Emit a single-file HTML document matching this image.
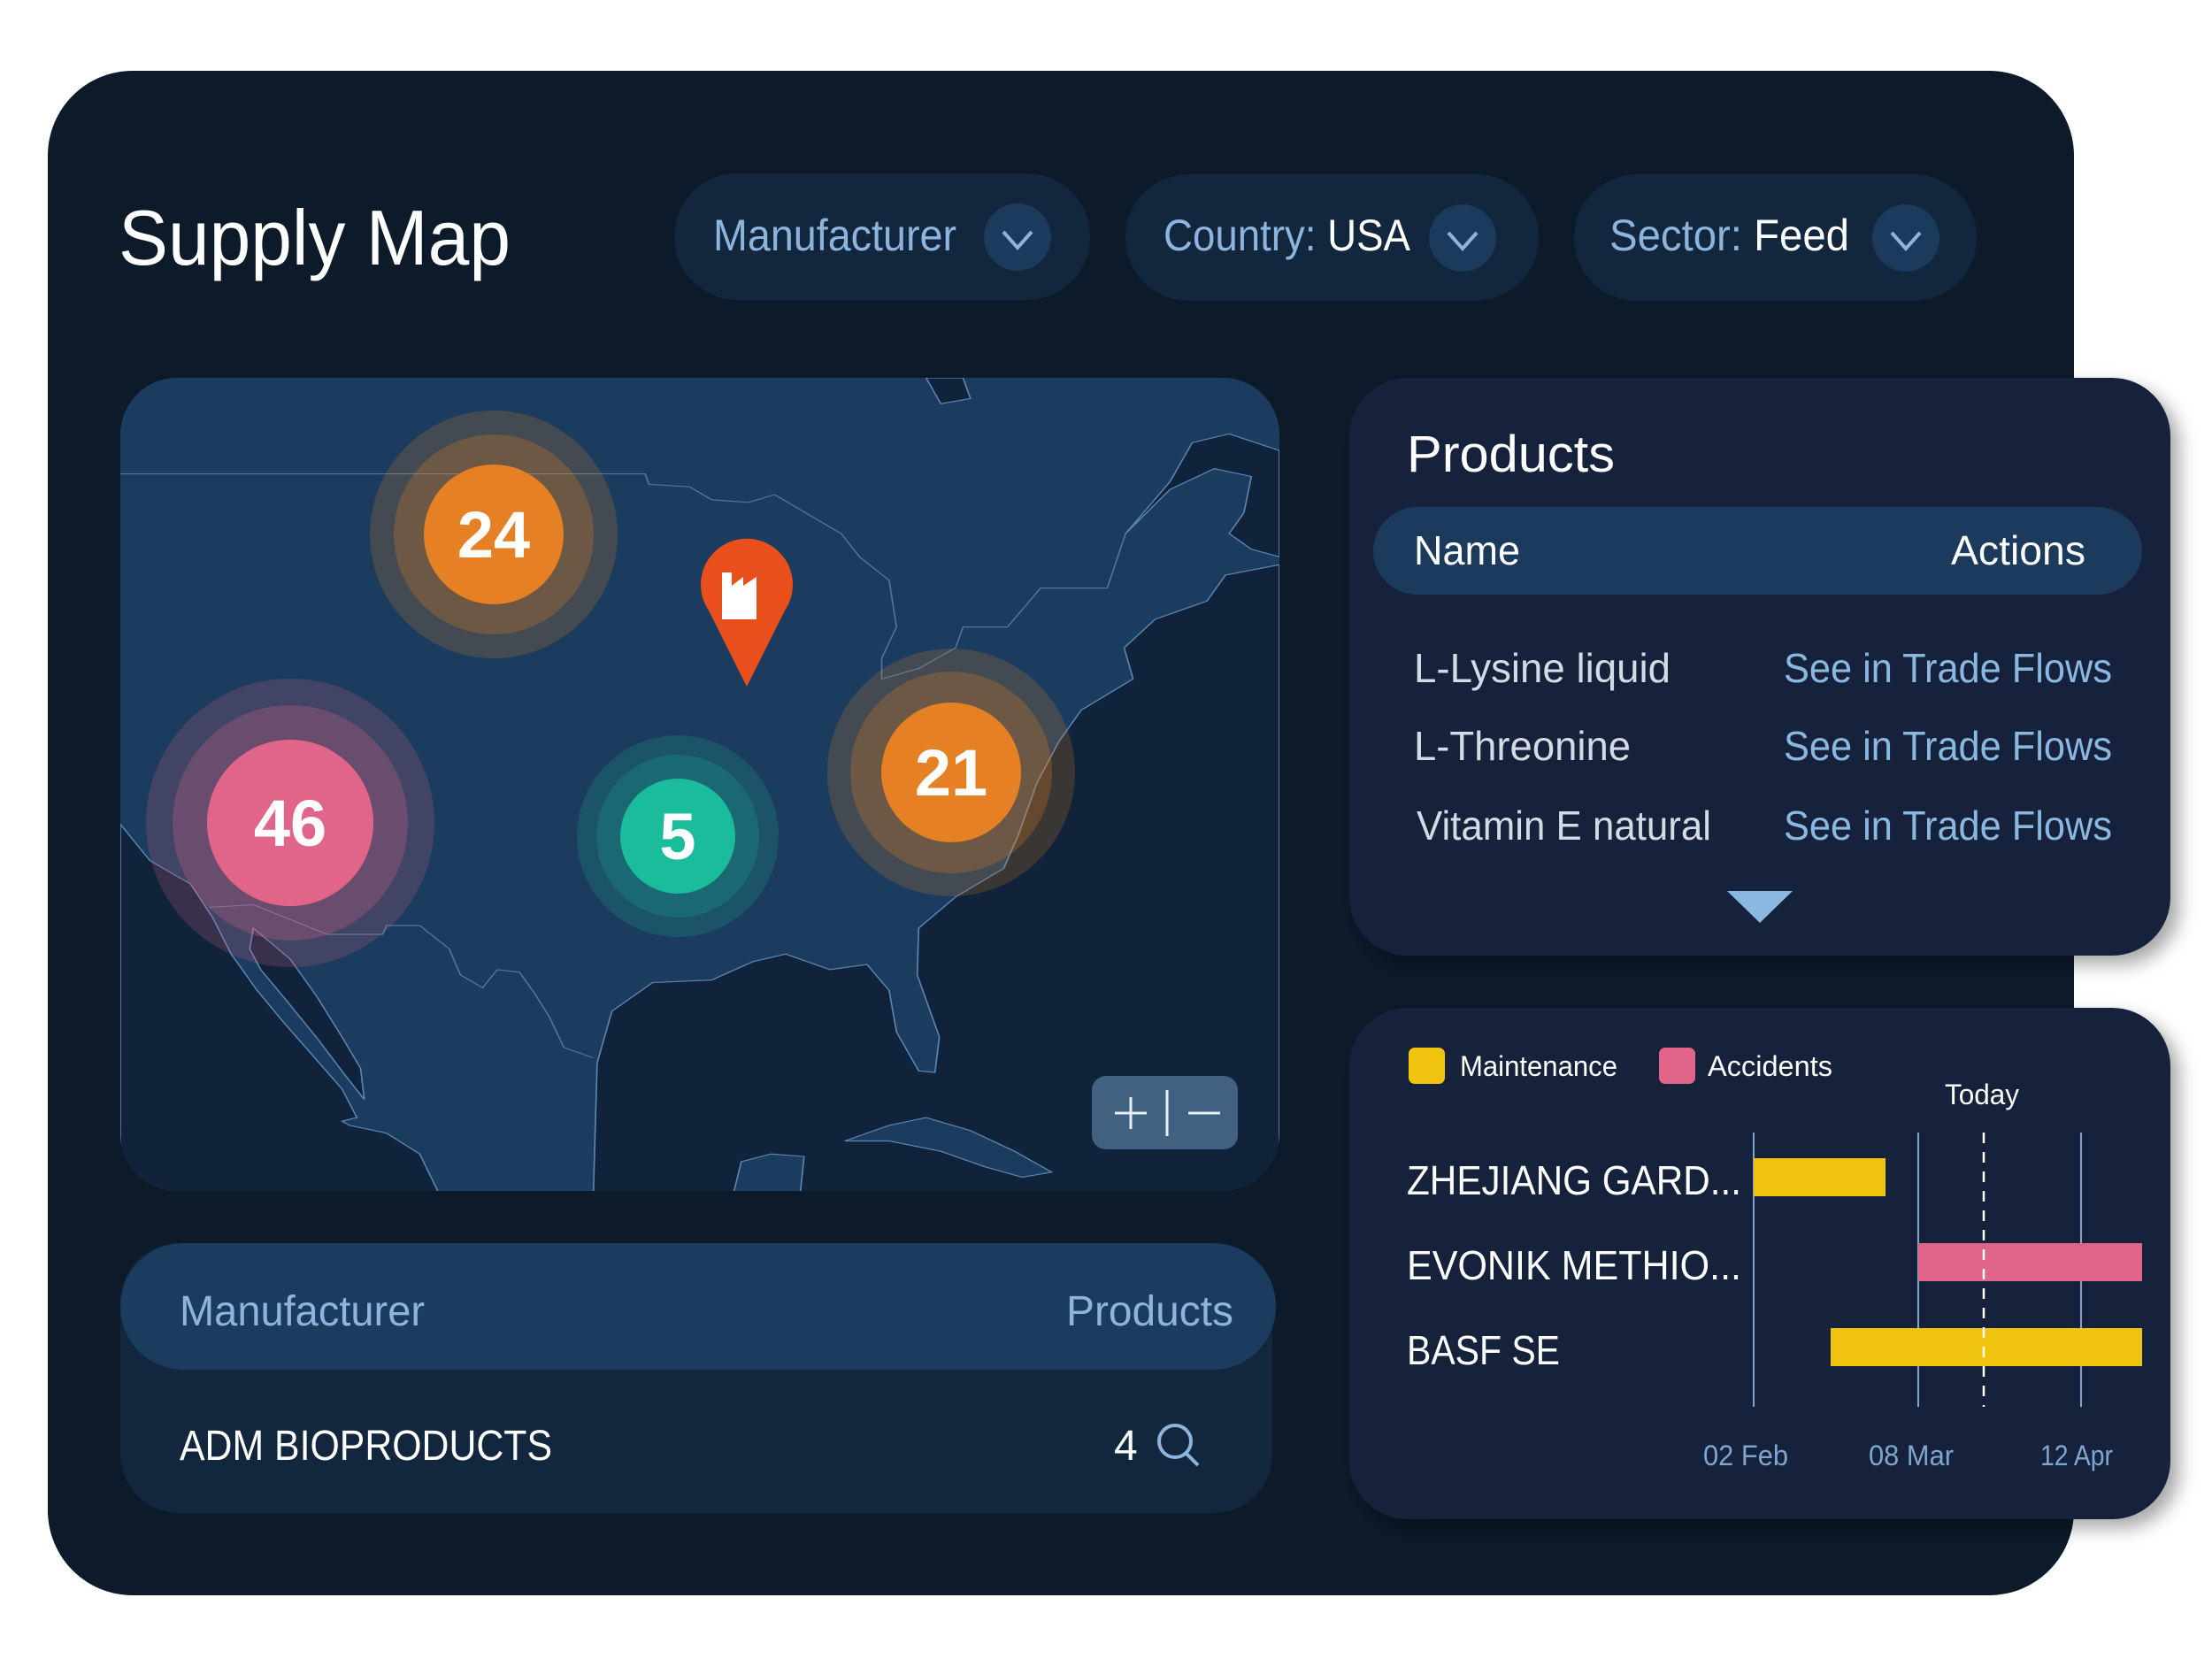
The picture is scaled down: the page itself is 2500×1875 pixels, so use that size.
<!DOCTYPE html>
<html><head><meta charset="utf-8"><style>
html,body{margin:0;padding:0;background:#fff;width:2500px;height:1875px;overflow:hidden}
svg{display:block}
text{font-family:"Liberation Sans",sans-serif}
</style></head><body>
<svg width="2500" height="1875" viewBox="0 0 2500 1875" xmlns="http://www.w3.org/2000/svg">
<defs>
<clipPath id="mapclip"><rect x="136" y="427" width="1310" height="919" rx="64"/></clipPath>
<filter id="sh" x="-10%" y="-10%" width="130%" height="130%"><feDropShadow dx="10" dy="10" stdDeviation="10" flood-color="#000" flood-opacity="0.35"/></filter>
</defs>
<rect width="2500" height="1875" fill="#fff"/>
<rect x="54" y="80" width="2290" height="1723" rx="96" fill="#0c1a29"/>

<text x="134" y="299" font-size="88" fill="#fff" textLength="443" lengthAdjust="spacingAndGlyphs">Supply Map</text>

<rect x="762" y="196" width="470" height="143" rx="71" fill="#12263d"/>
<text x="806" y="283" font-size="50" fill="#8db4dc" textLength="275" lengthAdjust="spacingAndGlyphs">Manufacturer</text>
<circle cx="1150" cy="268" r="38" fill="#1b3a5c"/>
<polyline points="1134,262 1150,280 1166,262" fill="none" stroke="#8db4dc" stroke-width="4"/>

<rect x="1272" y="197" width="467" height="143" rx="71" fill="#12263d"/>
<text x="1315" y="283" font-size="50" fill="#8db4dc" textLength="279" lengthAdjust="spacingAndGlyphs">Country: <tspan fill="#fff">USA</tspan></text>
<circle cx="1653" cy="269" r="38" fill="#1b3a5c"/>
<polyline points="1637,263 1653,281 1669,263" fill="none" stroke="#8db4dc" stroke-width="4"/>

<rect x="1779" y="197" width="455" height="143" rx="71" fill="#12263d"/>
<text x="1819" y="283" font-size="50" fill="#8db4dc" textLength="271" lengthAdjust="spacingAndGlyphs">Sector: <tspan fill="#fff">Feed</tspan></text>
<circle cx="2154" cy="269" r="38" fill="#1b3a5c"/>
<polyline points="2138,263 2154,281 2170,263" fill="none" stroke="#8db4dc" stroke-width="4"/>

<!-- MAP -->
<g clip-path="url(#mapclip)">
<rect x="136" y="427" width="1310" height="919" fill="#1b3c5e"/>
<svg x="136" y="427" width="1310" height="920" viewBox="0 0 1568 1568" preserveAspectRatio="none">
<g fill="#10233a" stroke="#5a86b4" stroke-width="2">
<path d="M0,860 L40,930 L95,975 L125,1040 L150,1110 L185,1180 L220,1240 L260,1305 L300,1370 L320,1425 L300,1432 L310,1440 L360,1455 L405,1495 L430,1568 L0,1568 Z"/>
<path d="M180,1060 L230,1120 L265,1190 L300,1270 L325,1330 L330,1390 L305,1345 L265,1270 L225,1200 L190,1140 L175,1100 Z"/>
<path d="M640,1568 L645,1320 L665,1220 L720,1165 L800,1160 L855,1125 L900,1110 L960,1140 L1010,1130 L1040,1180 L1050,1260 L1080,1335 L1102,1338 L1108,1270 L1078,1150 L1080,1060 L1130,1000 L1195,945 L1215,880 L1240,780 L1270,700 L1300,640 L1370,580 L1358,520 L1400,465 L1470,430 L1495,380 L1568,360 L1568,1568 Z"/>
<path d="M1360,300 L1420,215 L1480,175 L1530,190 L1520,260 L1500,300 L1530,330 L1568,345 L1568,140 L1500,108 L1450,125 L1420,200 Z"/>
<path d="M1090,0 L1110,50 L1150,40 L1140,0 Z"/>
</g>
<g fill="#1b3c5e" stroke="#5a86b4" stroke-width="2">
<path d="M980,1470 L1040,1440 L1090,1425 L1150,1450 L1210,1490 L1260,1530 L1220,1540 L1170,1520 L1110,1490 L1040,1470 Z"/>
<path d="M830,1568 L840,1510 L880,1495 L925,1500 L920,1568 Z"/>
</g>
<g fill="none" stroke="#5a86b4" stroke-width="2" opacity="0.8">
<path d="M0,185 L710,185 L715,205 L770,210 L800,235 L850,240 L885,225 L975,300 L1000,345 L1040,390 L1050,480 L1030,540 L1030,580 L1080,560 L1130,520 L1140,480 L1200,480 L1245,405 L1335,405 L1360,300"/>
<path d="M120,1020 L180,1015 L280,1072 L355,1072 L360,1055 L405,1055 L445,1100 L460,1150 L490,1175 L510,1140 L540,1145 L560,1185 L580,1230 L600,1290 L640,1310"/>
</g>
</svg>
</g>
<!-- bubbles -->
<circle cx="558" cy="604" r="140" fill="#e8821e" fill-opacity="0.2"/>
<circle cx="558" cy="604" r="113" fill="#e8821e" fill-opacity="0.25"/>
<circle cx="558" cy="604" r="79" fill="#e58024"/>
<text x="558" y="630" font-size="74" font-weight="bold" fill="#fff" text-anchor="middle">24</text>

<circle cx="328" cy="930" r="163" fill="#e06589" fill-opacity="0.2"/>
<circle cx="328" cy="930" r="133" fill="#e06589" fill-opacity="0.25"/>
<circle cx="328" cy="930" r="94" fill="#e06589"/>
<text x="328" y="956" font-size="74" font-weight="bold" fill="#fff" text-anchor="middle">46</text>

<circle cx="766" cy="945" r="114" fill="#1abc9c" fill-opacity="0.18"/>
<circle cx="766" cy="945" r="92" fill="#1abc9c" fill-opacity="0.2"/>
<circle cx="766" cy="945" r="65" fill="#1abc9c"/>
<text x="766" y="971" font-size="74" font-weight="bold" fill="#fff" text-anchor="middle">5</text>

<circle cx="1075" cy="873" r="140" fill="#e8821e" fill-opacity="0.2"/>
<circle cx="1075" cy="873" r="114" fill="#e8821e" fill-opacity="0.25"/>
<circle cx="1075" cy="873" r="79" fill="#e58024"/>
<text x="1075" y="899" font-size="74" font-weight="bold" fill="#fff" text-anchor="middle">21</text>

<!-- pin -->
<path d="M844,776 L801,690 A52,52 0 1 1 887,690 Z" fill="#e84f1c"/>
<path d="M816,700 L816,647 L827,647 L827,662 L840,652 L840,662 L855,652 L855,700 Z" fill="#fff"/>

<!-- zoom ctrl -->
<rect x="1234" y="1216" width="165" height="83" rx="16" fill="#42607f"/>
<line x1="1260" y1="1258" x2="1296" y2="1258" stroke="#e6eef6" stroke-width="3"/>
<line x1="1278" y1="1240" x2="1278" y2="1276" stroke="#e6eef6" stroke-width="3"/>
<line x1="1319" y1="1232" x2="1319" y2="1284" stroke="#e6eef6" stroke-width="3"/>
<line x1="1343" y1="1258" x2="1379" y2="1258" stroke="#e6eef6" stroke-width="3"/>

<!-- bottom table -->
<rect x="136" y="1405" width="1302" height="305" rx="66" fill="#12263d"/>
<rect x="136" y="1405" width="1306" height="143" rx="71" fill="#1b3c5e"/>
<text x="203" y="1498" font-size="48" fill="#8db4dc" textLength="277" lengthAdjust="spacingAndGlyphs">Manufacturer</text>
<text x="1205" y="1498" font-size="48" fill="#8db4dc" textLength="189" lengthAdjust="spacingAndGlyphs">Products</text>
<text x="203" y="1650" font-size="48" fill="#fff" textLength="421" lengthAdjust="spacingAndGlyphs">ADM BIOPRODUCTS</text>
<text x="1259" y="1650" font-size="48" fill="#fff">4</text>
<circle cx="1328" cy="1629" r="18" fill="none" stroke="#8db4dc" stroke-width="4"/>
<line x1="1340" y1="1642" x2="1354" y2="1656" stroke="#8db4dc" stroke-width="4"/>

<!-- products panel -->
<rect x="1525" y="427" width="928" height="653" rx="66" fill="#12243a" filter="url(#sh)"/>
<text x="1590" y="533" font-size="58" fill="#fff" textLength="235" lengthAdjust="spacingAndGlyphs">Products</text>
<rect x="1552" y="573" width="869" height="99" rx="50" fill="#1b3a5c"/>
<text x="1598" y="638" font-size="46" fill="#fff" textLength="120" lengthAdjust="spacingAndGlyphs">Name</text>
<text x="2205" y="638" font-size="46" fill="#fff" textLength="152" lengthAdjust="spacingAndGlyphs">Actions</text>
<g font-size="46">
<text x="1598" y="771" fill="#d4dbe4" textLength="290" lengthAdjust="spacingAndGlyphs">L-Lysine liquid</text>
<text x="1598" y="859" fill="#d4dbe4" textLength="245" lengthAdjust="spacingAndGlyphs">L-Threonine</text>
<text x="1601" y="949" fill="#d4dbe4" textLength="333" lengthAdjust="spacingAndGlyphs">Vitamin E natural</text>
<text x="2016" y="771" fill="#8ab8e0" textLength="371" lengthAdjust="spacingAndGlyphs">See in Trade Flows</text>
<text x="2016" y="859" fill="#8ab8e0" textLength="371" lengthAdjust="spacingAndGlyphs">See in Trade Flows</text>
<text x="2016" y="949" fill="#8ab8e0" textLength="371" lengthAdjust="spacingAndGlyphs">See in Trade Flows</text>
</g>
<polygon points="1952,1007 2026,1007 1989,1043" fill="#8ab8e0"/>

<!-- gantt panel -->
<rect x="1525" y="1139" width="928" height="578" rx="66" fill="#12243a" filter="url(#sh)"/>
<rect x="1592" y="1184" width="41" height="41" rx="7" fill="#f0c30f"/>
<text x="1650" y="1216" font-size="32" fill="#fff" textLength="178" lengthAdjust="spacingAndGlyphs">Maintenance</text>
<rect x="1875" y="1184" width="41" height="41" rx="7" fill="#e06589"/>
<text x="1930" y="1216" font-size="32" fill="#fff" textLength="141" lengthAdjust="spacingAndGlyphs">Accidents</text>
<text x="2198" y="1248" font-size="32" fill="#fff" textLength="84" lengthAdjust="spacingAndGlyphs">Today</text>
<g stroke="#7fa6cf" stroke-width="2">
<line x1="1982" y1="1280" x2="1982" y2="1590"/>
<line x1="2168" y1="1280" x2="2168" y2="1590"/>
<line x1="2352" y1="1280" x2="2352" y2="1590"/>
</g>
<rect x="1982" y="1309" width="149" height="43" fill="#f0c30f"/>
<rect x="2168" y="1405" width="253" height="43" fill="#e06589"/>
<rect x="2069" y="1501" width="352" height="43" fill="#f0c30f"/>
<line x1="2242" y1="1280" x2="2242" y2="1590" stroke="#fff" stroke-width="2.5" stroke-dasharray="12,10"/>
<g font-size="46" fill="#fff">
<text x="1590" y="1350" textLength="378" lengthAdjust="spacingAndGlyphs">ZHEJIANG GARD...</text>
<text x="1590" y="1446" textLength="378" lengthAdjust="spacingAndGlyphs">EVONIK METHIO...</text>
<text x="1590" y="1542" textLength="173" lengthAdjust="spacingAndGlyphs">BASF SE</text>
</g>
<g font-size="32" fill="#7fa6cf">
<text x="1925" y="1656" textLength="96" lengthAdjust="spacingAndGlyphs">02 Feb</text>
<text x="2112" y="1656" textLength="96" lengthAdjust="spacingAndGlyphs">08 Mar</text>
<text x="2306" y="1656" textLength="82" lengthAdjust="spacingAndGlyphs">12 Apr</text>
</g>
</svg>
</body></html>
